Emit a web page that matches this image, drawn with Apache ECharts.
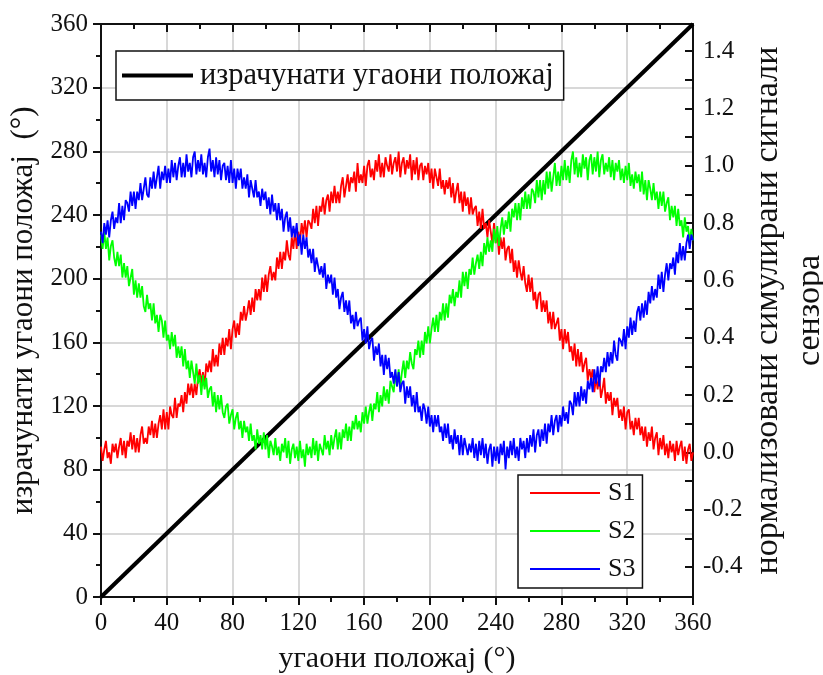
<!DOCTYPE html>
<html>
<head>
<meta charset="utf-8">
<script src="https://cdn.jsdelivr.net/npm/echarts@6/dist/echarts.min.js"></script>
<style>
  html, body { margin: 0; padding: 0; background: #fff; }
  #chart { width: 823px; height: 675px; }
</style>
</head>
<body>
<div id="chart"></div>
<script>
// Angular position grid (degrees), one sample per degree
const angleStart = 0, angleEnd = 360;
const angles = [];
for (let a = angleStart; a <= angleEnd; a++) angles.push(a);

// Computed angular position (left axis)
const computedX = [0, 360];
const computedY = [0, 360];

// Normalised simulated sensor signals (right axis), one value per degree
const s1 = [
  0.02,-0.03,0.01,0.04,-0.02,0.00,-0.04,0.03,0.00,0.03,
  -0.02,0.02,0.05,-0.01,0.04,-0.02,0.04,0.02,0.07,0.01,
  0.06,0.00,0.05,0.00,0.06,0.09,0.03,0.05,0.03,0.09,
  0.06,0.11,0.05,0.10,0.05,0.10,0.13,0.08,0.15,0.08,
  0.14,0.08,0.16,0.13,0.12,0.19,0.12,0.17,0.16,0.20,
  0.14,0.21,0.17,0.24,0.20,0.24,0.19,0.24,0.20,0.26,
  0.29,0.24,0.28,0.23,0.31,0.28,0.32,0.28,0.36,0.30,
  0.34,0.30,0.38,0.34,0.40,0.34,0.40,0.37,0.43,0.36,
  0.43,0.46,0.40,0.45,0.41,0.49,0.46,0.51,0.46,0.49,
  0.53,0.48,0.54,0.49,0.57,0.53,0.57,0.53,0.61,0.56,
  0.62,0.56,0.62,0.65,0.60,0.63,0.60,0.68,0.64,0.70,
  0.64,0.70,0.67,0.74,0.69,0.67,0.75,0.71,0.78,0.71,
  0.77,0.73,0.80,0.76,0.81,0.75,0.81,0.80,0.78,0.85,
  0.80,0.86,0.79,0.86,0.84,0.89,0.83,0.88,0.90,0.84,
  0.91,0.87,0.93,0.87,0.91,0.87,0.93,0.96,0.89,0.93,
  0.97,0.91,0.96,0.94,0.98,0.91,1.01,0.94,0.97,0.94,
  1.00,0.93,1.00,1.02,0.96,0.99,0.95,1.02,0.98,1.04,
  0.96,1.01,0.96,1.03,1.00,0.98,1.04,0.97,1.01,1.03,
  0.98,1.05,0.96,1.01,1.03,0.97,1.02,0.99,1.04,0.95,
  1.02,0.97,1.03,0.95,1.00,1.01,0.95,1.00,0.97,1.01,
  0.94,0.99,0.92,0.99,0.96,0.93,0.99,0.92,0.95,0.90,
  0.95,0.92,0.96,0.89,0.94,0.87,0.91,0.94,0.87,0.91,
  0.84,0.91,0.86,0.89,0.83,0.89,0.83,0.85,0.86,0.79,
  0.84,0.78,0.85,0.78,0.80,0.75,0.81,0.77,0.73,0.80,
  0.73,0.77,0.69,0.75,0.71,0.75,0.67,0.71,0.72,0.66,
  0.71,0.63,0.67,0.61,0.67,0.63,0.60,0.65,0.59,0.56,
  0.62,0.56,0.61,0.53,0.56,0.50,0.55,0.56,0.49,0.53,
  0.49,0.53,0.45,0.49,0.43,0.49,0.43,0.45,0.47,0.39,
  0.43,0.36,0.43,0.38,0.42,0.35,0.37,0.32,0.38,0.30,
  0.36,0.30,0.35,0.28,0.31,0.33,0.25,0.29,0.26,0.29,
  0.21,0.26,0.22,0.27,0.19,0.22,0.26,0.17,0.21,0.18,
  0.21,0.13,0.19,0.16,0.19,0.12,0.15,0.11,0.16,0.08,
  0.14,0.15,0.08,0.11,0.06,0.12,0.08,0.12,0.06,0.09,
  0.04,0.09,0.02,0.07,0.04,0.09,0.01,0.05,0.07,-0.01,
  0.05,0.01,0.06,-0.01,0.03,-0.02,0.04,0.00,0.03,-0.03,
  0.04,-0.01,0.02,0.04,-0.03,0.02,-0.04,0.01,0.03,-0.03,0.00
];

const s2 = [
  0.76,0.71,0.77,0.71,0.75,0.67,0.72,0.74,0.68,0.65,
  0.70,0.65,0.69,0.61,0.66,0.61,0.65,0.58,0.61,0.64,
  0.55,0.60,0.54,0.59,0.54,0.58,0.51,0.49,0.55,0.50,
  0.52,0.46,0.52,0.45,0.48,0.42,0.48,0.46,0.40,0.46,
  0.39,0.41,0.36,0.42,0.37,0.41,0.33,0.37,0.33,0.37,
  0.30,0.36,0.29,0.32,0.26,0.32,0.28,0.24,0.31,0.24,
  0.27,0.20,0.27,0.22,0.26,0.19,0.22,0.23,0.16,0.21,
  0.14,0.20,0.15,0.20,0.14,0.12,0.16,0.17,0.10,0.13,
  0.15,0.08,0.12,0.14,0.08,0.11,0.05,0.11,0.07,0.09,
  0.04,0.10,0.04,0.06,0.01,0.08,0.03,0.06,0.01,0.07,
  0.01,0.06,-0.02,0.04,0.02,-0.01,0.05,-0.01,0.02,-0.03,
  0.03,0.00,0.05,-0.02,0.04,-0.04,0.01,0.03,-0.02,0.02,
  -0.03,0.04,-0.02,0.01,-0.05,0.03,-0.01,0.02,-0.02,0.05,
  -0.01,0.04,-0.03,0.03,0.01,-0.01,0.06,0.01,0.04,-0.01,
  0.06,0.01,0.05,0.08,0.01,0.07,0.01,0.08,0.05,0.10,
  0.04,0.09,0.04,0.11,0.08,0.13,0.08,0.11,0.07,0.14,
  0.10,0.16,0.10,0.14,0.17,0.11,0.17,0.15,0.21,0.14,
  0.20,0.16,0.23,0.18,0.22,0.17,0.25,0.25,0.21,0.28,
  0.23,0.29,0.23,0.28,0.32,0.26,0.32,0.29,0.35,0.31,
  0.29,0.36,0.34,0.39,0.33,0.39,0.34,0.42,0.38,0.44,
  0.38,0.43,0.47,0.42,0.48,0.42,0.49,0.46,0.52,0.46,
  0.52,0.47,0.55,0.52,0.57,0.51,0.56,0.54,0.60,0.54,
  0.63,0.58,0.63,0.57,0.64,0.62,0.68,0.62,0.66,0.69,
  0.64,0.70,0.65,0.73,0.69,0.75,0.70,0.74,0.70,0.78,
  0.73,0.79,0.72,0.78,0.82,0.76,0.81,0.78,0.84,0.77,
  0.85,0.82,0.87,0.81,0.87,0.81,0.89,0.85,0.91,0.85,
  0.90,0.85,0.92,0.91,0.87,0.95,0.89,0.95,0.88,0.95,
  0.90,0.98,0.92,0.98,0.91,0.96,1.01,0.93,0.98,0.93,
  1.00,0.95,1.02,0.95,1.00,0.94,1.02,1.05,0.97,1.03,
  0.96,1.01,0.96,1.04,0.99,1.03,0.95,1.02,1.04,0.97,
  1.03,0.98,1.05,0.96,1.02,1.04,0.97,1.01,0.98,1.03,
  0.96,1.02,0.95,1.01,0.98,1.02,0.95,0.99,0.94,1.00,
  0.95,1.01,0.93,0.97,0.92,0.98,0.94,0.97,0.91,0.98,
  0.90,0.95,0.88,0.95,0.92,0.88,0.94,0.88,0.91,0.85,
  0.91,0.86,0.91,0.84,0.87,0.89,0.81,0.86,0.82,0.86,
  0.79,0.85,0.79,0.81,0.75,0.82,0.77,0.79,0.73,0.78,0.74
];

const s3 = [
  0.77,0.73,0.80,0.76,0.81,0.75,0.81,0.84,0.78,0.82,
  0.80,0.87,0.80,0.86,0.81,0.88,0.87,0.84,0.91,0.86,
  0.91,0.85,0.91,0.88,0.94,0.88,0.92,0.96,0.90,0.89,
  0.96,0.92,0.98,0.92,0.96,1.00,0.92,0.98,0.95,1.00,
  0.94,0.99,0.94,1.02,0.96,1.01,0.95,1.00,1.03,0.96,
  1.01,0.96,1.04,0.98,1.01,0.96,1.03,1.05,0.97,1.02,
  0.98,1.04,0.97,1.01,0.96,1.03,1.06,0.98,1.02,0.96,
  1.03,0.97,1.02,0.95,1.00,1.01,0.95,1.00,0.94,1.02,
  0.94,0.99,0.92,0.99,0.95,0.99,0.92,0.96,0.92,0.97,
  0.89,0.95,0.95,0.89,0.95,0.89,0.91,0.86,0.92,0.88,
  0.91,0.85,0.89,0.83,0.90,0.84,0.87,0.81,0.87,0.81,
  0.85,0.77,0.82,0.84,0.77,0.82,0.75,0.79,0.75,0.80,
  0.72,0.76,0.69,0.76,0.71,0.75,0.68,0.71,0.66,0.71,
  0.63,0.68,0.68,0.62,0.65,0.61,0.66,0.57,0.62,0.59,
  0.62,0.55,0.61,0.54,0.57,0.50,0.54,0.56,0.49,0.53,
  0.48,0.53,0.45,0.48,0.43,0.49,0.44,0.46,0.47,0.39,
  0.43,0.38,0.44,0.36,0.39,0.40,0.32,0.37,0.34,0.38,
  0.30,0.34,0.27,0.34,0.29,0.33,0.26,0.28,0.24,0.29,
  0.23,0.28,0.21,0.24,0.25,0.17,0.23,0.19,0.23,0.16,
  0.20,0.14,0.21,0.14,0.16,0.11,0.17,0.15,0.10,0.16,
  0.09,0.13,0.07,0.13,0.09,0.13,0.07,0.09,0.04,0.10,
  0.05,0.10,0.03,0.06,0.01,0.08,0.03,0.06,-0.01,0.06,
  -0.01,0.05,0.05,-0.01,0.03,0.00,0.05,-0.02,0.03,-0.03,
  0.04,-0.01,0.05,-0.02,0.03,-0.04,0.01,0.03,-0.05,0.02,
  -0.03,0.02,-0.04,0.03,-0.01,0.04,-0.06,0.02,-0.02,0.04,
  -0.01,0.05,-0.02,0.02,-0.03,0.05,0.01,0.04,-0.02,0.05,
  0.00,0.06,0.02,0.08,0.00,0.06,0.08,0.02,0.08,0.04,
  0.10,0.03,0.10,0.07,0.13,0.06,0.11,0.13,0.07,0.13,
  0.09,0.16,0.11,0.14,0.10,0.18,0.17,0.13,0.21,0.16,
  0.21,0.16,0.23,0.18,0.22,0.17,0.25,0.22,0.26,0.21,
  0.29,0.24,0.30,0.23,0.30,0.28,0.33,0.28,0.35,0.30,
  0.35,0.31,0.39,0.34,0.32,0.40,0.39,0.37,0.43,0.36,
  0.44,0.40,0.47,0.41,0.46,0.42,0.49,0.51,0.46,0.52,
  0.47,0.53,0.48,0.56,0.52,0.58,0.53,0.57,0.54,0.62,
  0.57,0.63,0.56,0.62,0.66,0.60,0.66,0.64,0.68,0.62,
  0.70,0.66,0.73,0.67,0.72,0.67,0.73,0.76,0.71,0.76,0.74
];

// Right-axis tick positions
const rightLabels = [-0.4, -0.2, 0.0, 0.2, 0.4, 0.6, 0.8, 1.0, 1.2, 1.4];
const rightTicks = [-0.4, -0.3, -0.2, -0.1, 0.0, 0.1, 0.2, 0.3, 0.4, 0.5, 0.6, 0.7, 0.8, 0.9, 1.0, 1.1, 1.2, 1.3, 1.4];

const names = {
  computed: 'израчунати угаони положај',
  s1: 'S1', s2: 'S2', s3: 'S3',
  xTitle: 'угаони положај (°)',
  yLeftTitle: 'израчунати угаони положај  (°)',
  yRightTitle: 'нормализовани симулирани сигнали\nсензора'
};

const FONT = '"Liberation Serif", "Times New Roman", serif';
const INK = '#111';
const GRID = '#cbcbcb';

const pairs = (xs, ys) => xs.map((x, i) => [x, ys[i]]);

const chart = echarts.init(document.getElementById('chart'), null, { renderer: 'canvas' });

const lineAxis = { show: true, onZero: false, lineStyle: { color: INK, width: 2 } };

chart.setOption({
  animation: false,
  backgroundColor: '#fff',
  grid: { left: 101, right: 130, top: 24, bottom: 78, containLabel: false, outerBoundsMode: 'none' },
  xAxis: [
    {
      type: 'value', position: 'bottom', min: 0, max: 360, interval: 40,
      axisLine: lineAxis,
      axisTick: { show: true, inside: false, length: 8, lineStyle: { color: INK, width: 2 } },
      minorTick: { show: true, splitNumber: 2, length: 5, lineStyle: { color: INK, width: 2 } },
      splitLine: { show: true, lineStyle: { color: GRID, width: 1.5 } },
      axisLabel: { fontFamily: FONT, fontSize: 25, color: INK, margin: 14 },
      name: names.xTitle, nameLocation: 'middle', nameGap: 47,
      nameTextStyle: { fontFamily: FONT, fontSize: 30, color: INK }
    },
    {
      type: 'value', position: 'top', min: 0, max: 360, interval: 40,
      axisLine: lineAxis,
      axisTick: { show: true, inside: true, length: 8, lineStyle: { color: INK, width: 2 } },
      minorTick: { show: true, splitNumber: 2, length: 5, lineStyle: { color: INK, width: 2 } },
      splitLine: { show: false },
      axisLabel: { show: false }
    }
  ],
  yAxis: [
    {
      type: 'value', position: 'left', min: 0, max: 360, interval: 40,
      axisLine: lineAxis,
      axisTick: { show: true, inside: false, length: 8, lineStyle: { color: INK, width: 2 } },
      minorTick: { show: true, splitNumber: 2, length: 5, lineStyle: { color: INK, width: 2 } },
      splitLine: { show: true, lineStyle: { color: GRID, width: 1.5 } },
      axisLabel: { fontFamily: FONT, fontSize: 25, color: INK, margin: 13 },
      name: names.yLeftTitle, nameLocation: 'middle', nameGap: 56, nameRotate: 90,
      nameTextStyle: { fontFamily: FONT, fontSize: 31, color: INK }
    },
    {
      type: 'value', position: 'right', min: -0.505, max: 1.495,
      axisLine: lineAxis,
      axisTick: { show: true, inside: true, length: 8, customValues: rightTicks, lineStyle: { color: INK, width: 2 } },
      splitLine: { show: false },
      axisLabel: {
        fontFamily: FONT, fontSize: 25, color: INK, margin: 10,
        customValues: rightLabels,
        formatter: v => v.toFixed(1)
      },
      name: names.yRightTitle, nameLocation: 'middle', nameGap: 54, nameRotate: 90,
      nameMoveOverlap: false,
      nameTextStyle: { fontFamily: FONT, fontSize: 34, color: INK, lineHeight: 42, align: 'center' }
    }
  ],
  legend: [
    {
      data: [names.computed],
      left: 116, top: 51, orient: 'horizontal',
      icon: 'rect', itemWidth: 71, itemHeight: 4,
      backgroundColor: '#fff', borderColor: INK, borderWidth: 1.5,
      padding: [9, 10, 9, 6],
      selectedMode: false,
      textStyle: { fontFamily: FONT, fontSize: 30.5, lineHeight: 30, color: INK, padding: [0, 0, 0, 2] }
    },
    {
      data: [names.s1, names.s2, names.s3],
      left: 518, top: 475, orient: 'vertical',
      icon: 'rect', itemWidth: 70, itemHeight: 2, itemGap: 12,
      backgroundColor: '#fff', borderColor: INK, borderWidth: 1.5,
      padding: [5, 7, 6, 12],
      selectedMode: false,
      textStyle: { fontFamily: FONT, fontSize: 26, lineHeight: 26, color: INK, padding: [0, 0, 0, 3] }
    }
  ],
  series: [
    {
      name: names.computed, type: 'line', xAxisIndex: 0, yAxisIndex: 0,
      data: pairs(computedX, computedY), showSymbol: false, silent: true,
      lineStyle: { color: '#000', width: 4 }, itemStyle: { color: '#000' }
    },
    {
      name: names.s1, type: 'line', xAxisIndex: 0, yAxisIndex: 1,
      data: pairs(angles, s1), showSymbol: false, silent: true,
      lineStyle: { color: '#ff0000', width: 1.8 }, itemStyle: { color: '#ff0000' }
    },
    {
      name: names.s2, type: 'line', xAxisIndex: 0, yAxisIndex: 1,
      data: pairs(angles, s2), showSymbol: false, silent: true,
      lineStyle: { color: '#00ff00', width: 1.8 }, itemStyle: { color: '#00ff00' }
    },
    {
      name: names.s3, type: 'line', xAxisIndex: 0, yAxisIndex: 1,
      data: pairs(angles, s3), showSymbol: false, silent: true,
      lineStyle: { color: '#0000ff', width: 1.8 }, itemStyle: { color: '#0000ff' }
    }
  ]
});
</script>
</body>
</html>
